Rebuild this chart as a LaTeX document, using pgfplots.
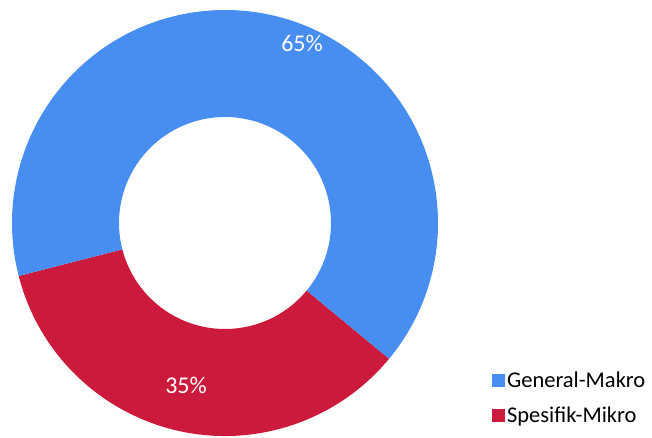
\documentclass[border=0pt]{standalone}
\usepackage{pgfplots}
\usepackage{pgfplotstable}
\pgfplotsset{compat=1.18}
\usepackage{fontspec}
\setmainfont{Carlito}
\definecolor{gblue}{RGB}{72,142,240}
\definecolor{gred}{RGB}{204,26,60}
\pgfplotstableread{
label value
General-Makro 65
Spesifik-Mikro 35
}\datatable
\pgfplotstablegetelem{0}{value}\of\datatable \let\vA\pgfplotsretval
\pgfplotstablegetelem{1}{value}\of\datatable \let\vB\pgfplotsretval
\begin{document}
\begin{tikzpicture}
\pgfmathsetmacro{\aS}{194.4}
\pgfmathsetmacro{\aM}{\aS+3.6*\vB}
\pgfmathsetmacro{\aE}{\aM+3.6*\vA}
\def\Ro{213bp}
\def\Ri{106bp}
\begin{axis}[
  scale only axis, width=652bp, height=438bp,
  xmin=0, xmax=652, ymin=0, ymax=438,
  hide axis, clip=false,
  legend style={at={(axis cs:492,69)}, anchor=north west, draw=none, fill=none,
    inner sep=0pt, row sep=13bp, font=\fontsize{22.5bp}{26bp}\selectfont,
    nodes={inner sep=2.5bp}},
  legend cell align=left,
  legend image code/.code={\fill[#1] (0bp,-6bp) rectangle (12bp,6bp);},
]
\addlegendimage{gblue}
\addlegendentry{General-Makro}
\addlegendimage{gred}
\addlegendentry{Spesifik-Mikro}
% red slice (Spesifik-Mikro)
\fill[gred] ([shift={(\aS:\Ro)}]axis cs:225,215) arc[start angle=\aS, end angle=\aM, radius=\Ro]
  -- ([shift={(\aM:\Ri)}]axis cs:225,215) arc[start angle=\aM, end angle=\aS, radius=\Ri] -- cycle;
% blue slice (General-Makro)
\fill[gblue] ([shift={(\aM:\Ro)}]axis cs:225,215) arc[start angle=\aM, end angle=\aE, radius=\Ro]
  -- ([shift={(\aE:\Ri)}]axis cs:225,215) arc[start angle=\aE, end angle=\aM, radius=\Ri] -- cycle;
\node[text=white, font=\fontsize{24bp}{28bp}\selectfont] at (axis cs:302,395) {\vA\%};
\node[text=white, font=\fontsize{24bp}{28bp}\selectfont] at (axis cs:186,53) {\vB\%};
\end{axis}
\pgfresetboundingbox
\path (current axis.south west) rectangle (current axis.north east);
\end{tikzpicture}
\end{document}
